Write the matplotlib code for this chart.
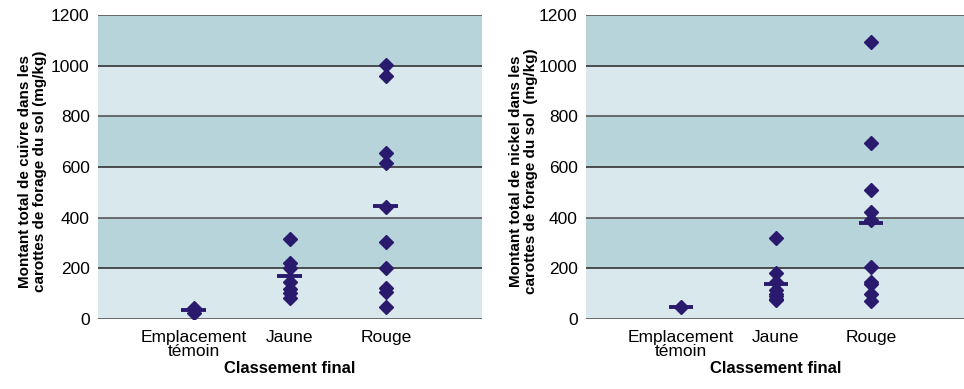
import numpy as np
import matplotlib.pyplot as plt
from matplotlib import font_manager

names = {f.name for f in font_manager.fontManager.ttflist}
narrow = 'Liberation Sans Narrow' if 'Liberation Sans Narrow' in names else 'Liberation Sans'
plt.rcParams['font.family'] = [narrow, 'DejaVu Sans']

categories = ['Emplacement\ntémoin', 'Jaune', 'Rouge']

# soil core totals, mg/kg
cuivre = [
    [45, 25],
    [316, 222, 200, 147, 120, 101, 82],
    [1002, 959, 656, 614, 443, 305, 200, 121, 108, 46],
]
nickel = [
    [46],
    [320, 180, 147, 114, 99, 90, 80, 75],
    [1094, 693, 509, 423, 390, 205, 145, 140, 100, 72],
]

ylabels = [
    'Montant total de cuivre dans les\ncarottes de forage du sol (mg/kg)',
    'Montant total de nickel dans les\ncarottes de forage du sol  (mg/kg)',
]

navy = '#2a1a6e'
dark_band = '#b7d4da'
light_band = '#d9e8ed'

fig = plt.figure(figsize=(9.64, 3.89), dpi=100)
axes = [fig.add_axes([0.1017, 0.18, 0.398, 0.7815]),
        fig.add_axes([0.6079, 0.18, 0.394, 0.7815])]

for ax, data, ylab, lab_x in zip(axes, [cuivre, nickel], ylabels, [0.034, 0.543]):
    for lo in range(0, 1200, 200):
        ax.axhspan(lo, lo + 200, color=dark_band if (lo // 200) % 2 else light_band, lw=0, zorder=0)
    for y in range(0, 1201, 200):
        ax.axhline(y, color='#333333' if y % 400 else '#555555', lw=1.2, zorder=1)

    xs = np.arange(1, len(categories) + 1)
    for x, vals in zip(xs, data):
        ax.plot([x] * len(vals), vals, 'D', color=navy, ms=7.2, mec=navy, zorder=3)
        ax.hlines(np.mean(vals), x - 0.13, x + 0.13, color=navy, lw=2.8, zorder=4)

    ax.set_xlim(0, 4)
    ax.set_ylim(0, 1200)
    ax.set_xticks(xs)
    ax.set_xticklabels(categories, fontsize=12, linespacing=0.95)
    ax.set_yticks(range(0, 1201, 200))
    ax.tick_params(length=0, labelsize=12.5, pad=6)
    ax.tick_params(axis='x', pad=8)
    for s in ax.spines.values():
        s.set_visible(False)
    ax.set_xlabel('Classement final', fontsize=12, fontweight='bold', labelpad=1)
    fig.text(lab_x, 0.56, ylab, rotation=90, ha='center', va='center',
             fontsize=11, fontweight='bold', linespacing=1.1)

plt.savefig('out.png', dpi=100)
